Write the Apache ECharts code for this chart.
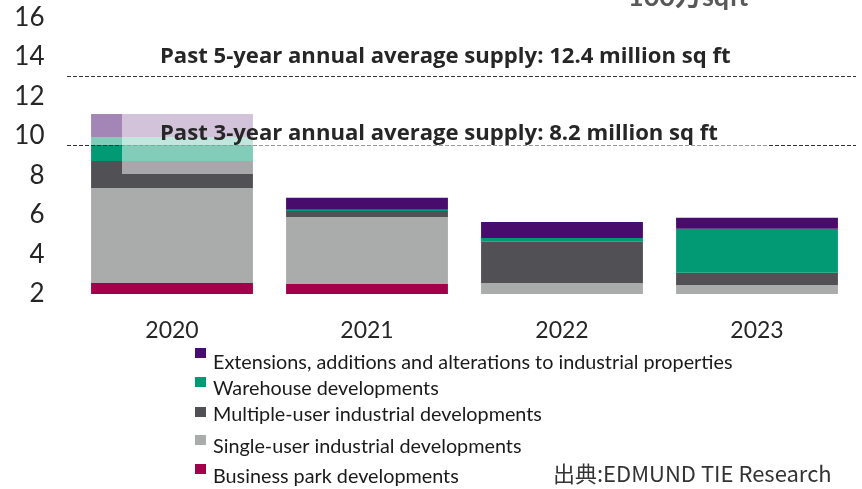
<!DOCTYPE html>
<html><head><meta charset="utf-8">
<script src="https://cdn.jsdelivr.net/npm/echarts@6/dist/echarts.min.js"></script>
<style>html,body{margin:0;padding:0;background:#fff}#c{width:862px;height:489px}</style>
</head><body><div id="c"></div>
<script>
// ---- data ----
const categories = ['2020', '2021', '2022', '2023'];
const seriesNames = [
  'Business park developments',
  'Single-user industrial developments',
  'Multiple-user industrial developments',
  'Warehouse developments',
  'Extensions, additions and alterations to industrial properties'
];
const axisBase = [2, 2, 2, 2];               // axis starts at 2
const businessPark = [0.56, 0.51, 0, 0];
const singleUser = [4.81, 3.39, 0.56, 0.46];
const multipleUser = [1.36, 0.30, 2.08, 0.61];
const warehouse = [1.22, 0.06, 0.20, 2.23];
const extensions = [1.16, 0.61, 0.81, 0.56];
const yTicks = [2, 4, 6, 8, 10, 12, 14, 16];
const fiveYearLine = 13.04;   // as drawn on the axis
const threeYearLine = 9.54;   // as drawn on the axis
const fiveYearText = 'Past 5-year annual average supply: 12.4 million sq ft';
const threeYearText = 'Past 3-year annual average supply: 8.2 million sq ft';
const unitText = '100万sqft';
const sourceText = '出典:EDMUND TIE Research';

const colors = ['#a1004b', '#aaacab', '#505055', '#029a74', '#480c6c'];
const values = [businessPark, singleUser, multipleUser, warehouse, extensions];
const FONT = 'Lato';

const chart = echarts.init(document.getElementById('c'), null, {renderer: 'canvas'});

const series = [{
  name: '_base', type: 'bar', stack: 't', data: axisBase, silent: true,
  itemStyle: {color: 'rgba(0,0,0,0)'}, barCategoryGap: '17%'
}];
seriesNames.forEach((n, i) => {
  series.push({name: n, type: 'bar', stack: 't', data: values[i],
    itemStyle: {color: colors[i]}, barCategoryGap: '17%'});
});

// legends: one per item (uneven spacing in reference)
const legendRows = [
  {name: seriesNames[4], top: 333, d: 10},
  {name: seriesNames[3], top: 365, d: 7},
  {name: seriesNames[2], top: 399, d: 3},
  {name: seriesNames[1], top: 423, d: 7},
  {name: seriesNames[0], top: 451, d: 8}
];
const legends = legendRows.map(r => ({
  data: [r.name], left: 195, top: r.top, padding: 0, orient: 'vertical',
  icon: 'rect', itemWidth: 11, itemHeight: 10, selectedMode: false,
  formatter: n => '{t|' + n + '}',
  textStyle: {fontFamily: FONT, fontSize: 19.8, color: '#1a1a1a',
    rich: {t: {fontFamily: FONT, fontSize: 19.8, color: '#1a1a1a', lineHeight: 20,
      padding: [2 * r.d, 0, 0, 2]}}}
}));

chart.setOption({
  animation: false,
  grid: {left: 74.5, right: 7.5, top: 17.5, bottom: 195, containLabel: false},
  xAxis: {type: 'category', data: categories,
    axisLine: {show: false}, axisTick: {show: false},
    axisLabel: {fontFamily: FONT, fontSize: 23, color: '#262626', margin: 25}},
  yAxis: {type: 'value', min: yTicks[0], max: yTicks[yTicks.length - 1], interval: 2,
    splitLine: {show: false}, axisLine: {show: false},
    axisLabel: {fontFamily: FONT, fontSize: 26, color: '#262626', margin: 30}},
  legend: legends,
  series: series
});

function px(v, cat) { return chart.convertToPixel({gridIndex: 0}, [cat || 0, v]); }
const y5 = Math.round(px(fiveYearLine)[1]) + 0.5;
const y3 = Math.round(px(threeYearLine)[1]) + 0.5;
let tot0 = axisBase[0]; values.forEach(a => tot0 += a[0]);
const top2020 = px(tot0)[1];
const bar2020L = px(0, 0)[0] - 81;

chart.setOption({
  graphic: [
    {type: 'rect', z: 10, shape: {x: bar2020L - 3, y: top2020 - 2, width: 768 - bar2020L + 3, height: y3 - top2020 + 1.5},
      style: {fill: 'rgba(255,255,255,0.5)'}},
    {type: 'line', z: 11, shape: {x1: 67, y1: y5, x2: 856, y2: y5},
      style: {stroke: '#333', lineWidth: 1, lineDash: [4, 2]}},
    {type: 'line', z: 11, shape: {x1: 67, y1: y3, x2: 856, y2: y3},
      style: {stroke: '#333', lineWidth: 1, lineDash: [4, 2]}},
    {type: 'rect', z: 12, shape: {x: 122, y: top2020, width: 646, height: 174 - top2020},
      style: {fill: 'rgba(255,255,255,0.5)'}},
    {type: 'text', z: 20, x: 160, y: 57, style: {text: fiveYearText, fontFamily: '"Open Sans"', fontWeight: 'bold',
      fontSize: 22.1, fill: '#262626', verticalAlign: 'middle'}},
    {type: 'text', z: 20, x: 160, y: 134, style: {text: threeYearText, fontFamily: '"Open Sans"', fontWeight: 'bold',
      fontSize: 22.1, fill: '#262626', verticalAlign: 'middle'}},
    {type: 'text', z: 20, x: 628, y: -3, style: {text: unitText, fontFamily: FONT + ', "Noto Sans CJK JP"', fontWeight: 'bold',
      fontSize: 27, fill: '#595959', verticalAlign: 'middle'}},
    {type: 'text', z: 20, x: 553, y: 474, style: {text: sourceText, fontFamily: '"Noto Sans CJK JP"',
      fontSize: 22, fill: '#333', verticalAlign: 'middle'}}
  ]
});
</script></body></html>
